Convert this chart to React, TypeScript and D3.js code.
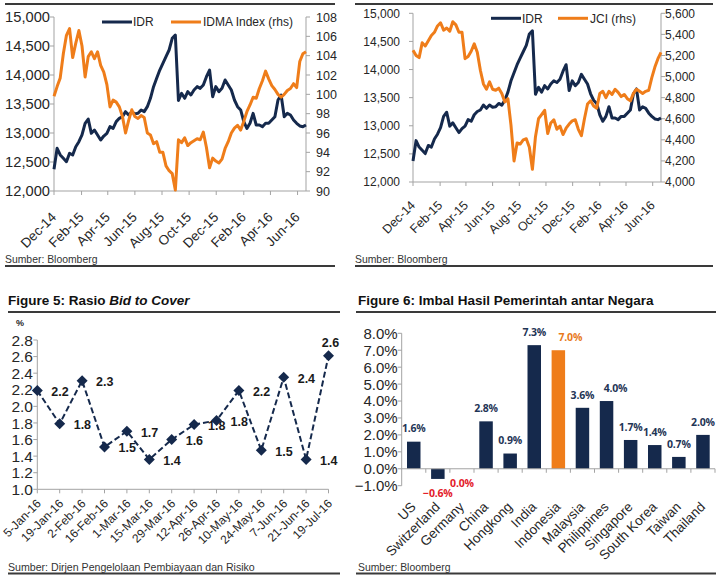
import React from "react";
import * as d3 from "d3";

const NAVY = "#15294c";
const ORANGE = "#ef7d1a";
const AXIS = "#a3a3a3";
const INK = "#262626";
const RULE = "#3a3a3a";
const FONT = "'Liberation Sans', Arial, Helvetica, sans-serif";

// Weekly readings, first week starting 1 Dec 2014
const firstWeek = new Date(2014, 11, 1);

const idrWeekly = [
  12374, 12736, 12621, 12564, 12506, 12650, 12621, 12764, 12850, 12966,
  13167, 13240, 12994, 13052, 12966, 12879, 12948, 12994, 13109, 13080,
  13196, 13253, 13281, 13368, 13310, 13368, 13330, 13339, 13397, 13368,
  13454, 13598, 13799, 13943, 14086, 14201, 14316, 14431, 14632, 14690,
  13560, 13684, 13598, 13713, 13655, 13742, 13799, 13770, 13828, 13971,
  14086, 13626, 13799, 13713, 13770, 13914, 13828, 13742, 13569, 13454,
  13397, 13196, 13080, 13167, 13339, 13138, 13138, 13109, 13167, 13167,
  13224, 13281, 13569, 13655, 13281, 13339, 13310, 13224, 13167, 13121,
  13109, 13138,
];

const idmaWeekly = [
  99.8, 100.8, 101.7, 104.2, 106.1, 106.8, 103.8, 105.3, 106.6, 105.0,
  101.8, 103.9, 104.4, 103.7, 104.4, 103.0, 102.3, 101.0, 98.7, 99.4,
  99.2, 98.7, 97.7, 96.0, 97.3, 98.4, 97.7, 97.5, 97.8, 97.6,
  96.0, 95.8, 94.9, 95.1, 94.0, 94.0, 92.6, 92.1, 91.8, 90.1,
  95.3, 95.0, 95.5, 94.7, 95.0, 95.2, 95.4, 95.3, 96.1, 94.5,
  92.4, 93.4, 93.1, 92.9, 93.3, 94.4, 95.1, 96.0, 96.5, 96.8,
  96.3, 97.2, 98.2, 98.9, 99.7, 99.6, 100.6, 101.4, 102.4, 101.6,
  100.9, 100.5, 100.0, 99.7, 100.0, 100.4, 100.6, 101.1, 100.7, 103.4,
  104.2, 104.4,
];

const jciWeekly = [
  5250, 5200, 5180, 5320, 5290, 5340, 5390, 5420, 5480, 5510,
  5440, 5460, 5430, 5520, 5490, 5420, 5420, 5170, 5190, 5240,
  5310, 5230, 5060, 4930, 4880, 4950, 4880, 4870, 4890, 4840,
  4760, 4790, 4540, 4200, 4370, 4360, 4400, 4410, 4330, 4120,
  4430, 4600, 4640, 4680, 4460, 4560, 4590, 4500, 4530, 4450,
  4510, 4550, 4580, 4590, 4500, 4440, 4600, 4740, 4770, 4720,
  4700, 4840, 4860, 4800, 4860, 4830, 4880, 4850, 4810, 4830,
  4790, 4770, 4840, 4880, 4860, 4840, 4860, 4870, 4990, 5090,
  5170, 5230,
];

const weekDates = idrWeekly.map((_, i) => d3.timeDay.offset(firstWeek, 7 * i));

const idrTicks = [12000, 12500, 13000, 13500, 14000, 14500, 15000];
const idmaTicks = [90, 92, 94, 96, 98, 100, 102, 104, 106, 108];
const jciTicks = [4000, 4200, 4400, 4600, 4800, 5000, 5200, 5400, 5600];

const auctionDates = [
  "5-Jan-16", "19-Jan-16", "2-Feb-16", "16-Feb-16", "1-Mar-16", "15-Mar-16",
  "29-Mar-16", "12-Apr-16", "26-Apr-16", "10-May-16", "24-May-16", "7-Jun-16",
  "21-Jun-16", "19-Jul-16",
];
const bidToCover = [2.19, 1.79, 2.31, 1.51, 1.7, 1.36, 1.6, 1.78, 1.83, 2.19, 1.47, 2.35, 1.36, 2.61];
const btcTicks = [1.0, 1.2, 1.4, 1.6, 1.8, 2.0, 2.2, 2.4, 2.6, 2.8];

const countries = [
  "US", "Switzerland", "Germany", "China", "Hongkong", "India", "Indonesia",
  "Malaysia", "Philippines", "Singapore", "South Korea", "Taiwan", "Thailand",
];
const yields = [1.6, -0.6, 0.0, 2.8, 0.9, 7.3, 7.0, 3.6, 4.0, 1.7, 1.4, 0.7, 2.0];
const yieldTicks = [-1, 0, 1, 2, 3, 4, 5, 6, 7, 8];
const highlightCountry = "Indonesia";

type DualProps = {
  left: number;
  right: number;
  top: number;
  bottom: number;
  rightTicks: number[];
  rightValues: number[];
  rightName: string;
  leftFont: number;
  rightFont: number;
  xFont: number;
  leftLabelX: number;
  rightLabelX: number;
  xLabelDx: number;
  xLabelDy: number;
  legendIdrX: number;
  legendOtherX: number;
  legendY: number;
  frameX0: number;
  frameX1: number;
};

function DualLineChart(p: DualProps) {
  const x = d3
    .scaleTime()
    .domain([weekDates[0], weekDates[weekDates.length - 1]])
    .range([p.left, p.right]);
  const yL = d3.scaleLinear().domain([idrTicks[0], idrTicks[idrTicks.length - 1]]).range([p.bottom, p.top]);
  const yR = d3
    .scaleLinear()
    .domain([p.rightTicks[0], p.rightTicks[p.rightTicks.length - 1]])
    .range([p.bottom, p.top]);
  const lineL = d3
    .line<number>()
    .x((_, i) => x(weekDates[i]))
    .y((d) => yL(d));
  const lineR = d3
    .line<number>()
    .x((_, i) => x(weekDates[i]))
    .y((d) => yR(d));
  const months = d3.timeMonth.range(firstWeek, weekDates[weekDates.length - 1], 2);
  const fmtMonth = d3.timeFormat("%b-%y");
  const comma = d3.format(",");

  return (
    <g fontFamily={FONT} fill={INK}>
      <line x1={p.frameX0} x2={p.frameX1} y1={4} y2={4} stroke={RULE} strokeWidth={2} />
      {/* axes */}
      <line x1={p.left} x2={p.left} y1={p.top} y2={p.bottom} stroke={AXIS} />
      <line x1={p.right} x2={p.right} y1={p.top} y2={p.bottom} stroke={AXIS} />
      <line x1={p.left} x2={p.right} y1={p.bottom} y2={p.bottom} stroke={AXIS} />
      {idrTicks.map((t) => (
        <g key={"l" + t}>
          <line x1={p.left - 4} x2={p.left} y1={yL(t)} y2={yL(t)} stroke={AXIS} />
          <text x={p.leftLabelX} y={yL(t)} dy="0.36em" textAnchor="end" fontSize={p.leftFont}>
            {comma(t)}
          </text>
        </g>
      ))}
      {p.rightTicks.map((t) => (
        <g key={"r" + t}>
          <line x1={p.right} x2={p.right + 4} y1={yR(t)} y2={yR(t)} stroke={AXIS} />
          <text x={p.rightLabelX} y={yR(t)} dy="0.36em" textAnchor="start" fontSize={p.rightFont}>
            {comma(t)}
          </text>
        </g>
      ))}
      {months.map((m) => (
        <g key={m.toISOString()}>
          <line x1={x(m)} x2={x(m)} y1={p.bottom} y2={p.bottom + 4} stroke={AXIS} />
          <text
            transform={`translate(${x(m) + p.xLabelDx},${p.bottom + p.xLabelDy}) rotate(-45)`}
            textAnchor="end"
            fontSize={p.xFont}
          >
            {fmtMonth(m)}
          </text>
        </g>
      ))}
      {/* series */}
      <path d={lineL(idrWeekly) ?? ""} fill="none" stroke={NAVY} strokeWidth={3} strokeLinejoin="round" />
      <path d={lineR(p.rightValues) ?? ""} fill="none" stroke={ORANGE} strokeWidth={3} strokeLinejoin="round" />
      {/* legend */}
      <line x1={p.legendIdrX} x2={p.legendIdrX + 30} y1={p.legendY} y2={p.legendY} stroke={NAVY} strokeWidth={3} />
      <text x={p.legendIdrX + 31} y={p.legendY} dy="0.36em" fontSize={12}>
        IDR
      </text>
      <line x1={p.legendOtherX} x2={p.legendOtherX + 30} y1={p.legendY} y2={p.legendY} stroke={ORANGE} strokeWidth={3} />
      <text x={p.legendOtherX + 32} y={p.legendY} dy="0.36em" fontSize={12}>
        {p.rightName}
      </text>
      {/* footer */}
      <text x={p.frameX0} y={259} dy="0.36em" fontSize={10.4} fill="#333">
        Sumber: Bloomberg
      </text>
      <line x1={p.frameX0} x2={p.frameX1} y1={266} y2={266} stroke={RULE} strokeWidth={2} />
    </g>
  );
}

function BidToCoverChart() {
  const left = 37.3;
  const right = 328.5;
  const top = 340;
  const bottom = 489.3;
  const x = d3.scalePoint<string>().domain(auctionDates).range([left, right]);
  const y = d3.scaleLinear().domain([1.0, 2.8]).range([bottom, top]);
  const line = d3
    .line<number>()
    .x((_, i) => x(auctionDates[i]) ?? 0)
    .y((d) => y(d));
  const f1 = d3.format(".1f");
  const r = 5.5;

  return (
    <g fontFamily={FONT} fill={INK}>
      <text x={8} y={305} fontSize={13.5} fontWeight="bold" fill="#111">
        Figure 5: Rasio <tspan fontStyle="italic">Bid to Cover</tspan>
      </text>
      <line x1={8} x2={340} y1={312} y2={312} stroke={RULE} strokeWidth={2} />
      <text x={16} y={323} dy="0.36em" fontSize={9} fontWeight="bold">
        %
      </text>
      <line x1={left} x2={left} y1={top} y2={bottom} stroke={AXIS} />
      <line x1={left} x2={right} y1={bottom} y2={bottom} stroke={AXIS} />
      {btcTicks.map((t) => (
        <g key={t}>
          <line x1={left - 4} x2={left} y1={y(t)} y2={y(t)} stroke={AXIS} />
          <text x={33} y={y(t)} dy="0.36em" textAnchor="end" fontSize={15.5}>
            {f1(t)}
          </text>
        </g>
      ))}
      {auctionDates.map((d) => (
        <g key={d}>
          <line x1={x(d)} x2={x(d)} y1={bottom} y2={bottom + 4} stroke={AXIS} />
          <text
            transform={`translate(${(x(d) ?? 0) + 4.5},${bottom + 15}) rotate(-45)`}
            textAnchor="end"
            fontSize={12}
          >
            {d}
          </text>
        </g>
      ))}
      <path d={line(bidToCover) ?? ""} fill="none" stroke={NAVY} strokeWidth={2} strokeDasharray="6 3" />
      {bidToCover.map((v, i) => {
        const cx = x(auctionDates[i]) ?? 0;
        const cy = y(v);
        const last = i === bidToCover.length - 1;
        return (
          <g key={i}>
            <path d={`M${cx},${cy - r}L${cx + r},${cy}L${cx},${cy + r}L${cx - r},${cy}Z`} fill={NAVY} />
            <text
              x={last ? cx + 2 : cx + 14}
              y={last ? cy - 13 : cy + 1}
              dy="0.36em"
              textAnchor={last ? "middle" : "start"}
              fontSize={12.5}
              fontWeight="bold"
              fill="#1a1a1a"
            >
              {f1(v)}
            </text>
          </g>
        );
      })}
      <text x={8} y={567} dy="0.36em" fontSize={10.6} fill="#333">
        Sumber: Dirjen Pengelolaan Pembiayaan dan Risiko
      </text>
      <line x1={8} x2={340} y1={573.5} y2={573.5} stroke={RULE} strokeWidth={2} />
    </g>
  );
}

// Small horizontal nudges for labels that sit beside their bars
const yieldLabelShift: Record<string, number> = { Indonesia: 12, Philippines: 9 };

function YieldChart() {
  const left = 401.7;
  const right = 715;
  const top = 333.3;
  const bottom = 485.7;
  const x = d3.scaleBand<string>().domain(countries).range([left, right]).paddingInner(0.44).paddingOuter(0.22);
  const y = d3.scaleLinear().domain([-1, 8]).range([bottom, top]);
  const pct = d3.format(".1f");
  const step = x.step();

  return (
    <g fontFamily={FONT} fill={INK}>
      <text x={358} y={305} fontSize={13.5} fontWeight="bold" fill="#111">
        Figure 6: Imbal Hasil Pemerintah antar Negara
      </text>
      <line x1={356} x2={716} y1={312} y2={312} stroke={RULE} strokeWidth={2} />
      <line x1={left} x2={left} y1={top} y2={bottom} stroke={AXIS} />
      {yieldTicks.map((t) => (
        <g key={t}>
          <line x1={left - 4} x2={left} y1={y(t)} y2={y(t)} stroke={AXIS} />
          <text x={397.7} y={y(t)} dy="0.36em" textAnchor="end" fontSize={15}>
            {pct(t)}%
          </text>
        </g>
      ))}
      {countries.map((c, i) => {
        const v = yields[i];
        const bx = x(c) ?? 0;
        const cx = bx + x.bandwidth() / 2;
        const y0 = y(0);
        const yv = y(v);
        const color = c === highlightCountry ? ORANGE : NAVY;
        const labelColor = v <= 0 ? "#e3202a" : c === highlightCountry ? "#e87a1c" : "#1f3556";
        const ly = v <= 0 ? yv + 14 : yv - 13;
        return (
          <g key={c}>
            <rect x={bx} width={x.bandwidth()} y={Math.min(y0, yv)} height={Math.abs(yv - y0)} fill={color} />
            <text
              x={cx + (yieldLabelShift[c] ?? 0)}
              y={ly}
              dy="0.36em"
              textAnchor="middle"
              fontFamily="'Open Sans', sans-serif"
              fontSize={10.5}
              letterSpacing={-0.2}
              fontWeight="bold"
              fill={labelColor}
            >
              {pct(v)}%
            </text>
            <line x1={left + step * (i + 1)} x2={left + step * (i + 1)} y1={y0} y2={y0 + 4} stroke={AXIS} />
            <text
              transform={`translate(${cx + 3},${bottom + 22}) rotate(-45)`}
              textAnchor="end"
              fontSize={13.5}
            >
              {c}
            </text>
          </g>
        );
      })}
      <line x1={left} x2={right} y1={y(0)} y2={y(0)} stroke={AXIS} />
      <text x={358} y={567} dy="0.36em" fontSize={10.4} fill="#333">
        Sumber: Bloomberg
      </text>
      <line x1={356} x2={716} y1={573.5} y2={573.5} stroke={RULE} strokeWidth={2} />
    </g>
  );
}

export default function App() {
  return (
    <svg
      width={721}
      height={575}
      viewBox="0 0 721 575"
      style={{ position: "absolute", left: 0, top: 0, background: "#fff" }}
    >
      <rect width={721} height={575} fill="#fff" />
      <DualLineChart
        left={54}
        right={306}
        top={17}
        bottom={191}
        rightTicks={idmaTicks}
        rightValues={idmaWeekly}
        rightName="IDMA Index (rhs)"
        leftFont={14.7}
        rightFont={12.5}
        xFont={13.5}
        leftLabelX={50}
        rightLabelX={316}
        xLabelDx={3}
        xLabelDy={27}
        legendIdrX={102}
        legendOtherX={171}
        legendY={22}
        frameX0={5}
        frameX1={335}
      />
      <DualLineChart
        left={413}
        right={661}
        top={13.3}
        bottom={182}
        rightTicks={jciTicks}
        rightValues={jciWeekly}
        rightName="JCI (rhs)"
        leftFont={12}
        rightFont={12}
        xFont={12.5}
        leftLabelX={400}
        rightLabelX={665}
        xLabelDx={3}
        xLabelDy={24}
        legendIdrX={491}
        legendOtherX={558}
        legendY={18.3}
        frameX0={355}
        frameX1={713}
      />
      <BidToCoverChart />
      <YieldChart />
    </svg>
  );
}
